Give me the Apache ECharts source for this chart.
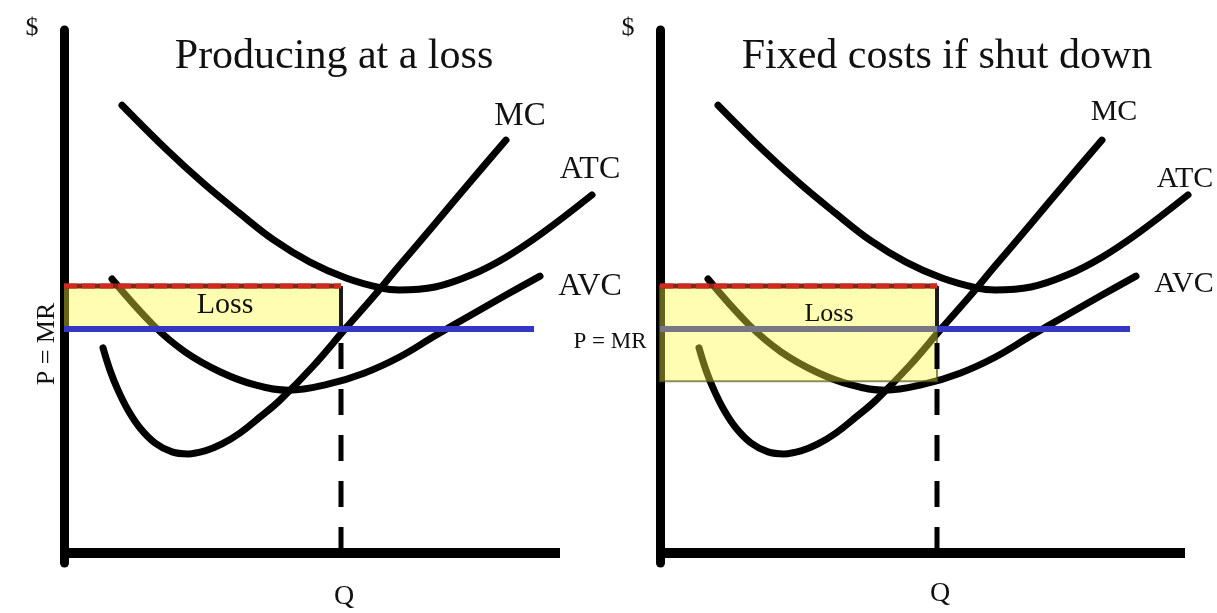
<!DOCTYPE html>
<html>
<head>
<meta charset="utf-8">
<script src="https://cdn.jsdelivr.net/npm/echarts@6/dist/echarts.min.js"></script>
<style>html,body{margin:0;padding:0;background:#fff}#c{width:1217px;height:613px}</style>
</head>
<body>
<div id="c"></div>
<script>
// ---- data (quantity, $) ----
const mcCurve  = [[7.8,41.2],[9.2,36.7],[10.8,32.7],[12.8,28.7],[15.2,25.1],[18.2,22.1],[21.6,20.3],[24.8,19.9],[28.2,20.5],[31.6,21.9],[35.2,24.1],[39.2,27.3],[43.2,30.7],[49.8,37.5],[56.4,45.2],[62.0,51.6],[67.0,57.6],[74.2,66.1],[81.4,74.7],[88.4,82.9]];
const atcCurve = [[11.6,89.9],[20.6,80.9],[27.8,74.3],[35.0,68.3],[42.0,62.8],[49.2,58.4],[56.4,55.2],[63.4,53.2],[67.0,52.8],[74.2,53.4],[81.4,55.8],[88.4,59.4],[95.6,64.2],[105.6,71.9]];
const avcCurve = [[9.6,55.0],[17.8,45.8],[24.2,40.4],[31.4,36.3],[38.4,33.7],[45.0,32.7],[52.8,33.9],[60.0,36.1],[67.0,39.3],[74.2,43.6],[81.4,47.8],[88.4,51.8],[95.2,55.6]];
const price = 45.0;       // P = MR
const qStar = 55.4;       // Q
const atcAtQ = 53.6;      // ATC at Q
const avcAtQ = 34.5;      // AVC at Q
const priceLineEnd = 94;  // end of the P = MR line
const titles = ['Producing at a loss', 'Fixed costs if shut down'];
const curveNames = ['MC', 'ATC', 'AVC'];

const chart = echarts.init(document.getElementById('c'));
const serif = 'Liberation Serif, Times New Roman, serif';

// axes 0/1 draw the visible axis lines; axes 2/3 (same scale, wider) carry the marks
function curve(name, data, idx) {
  return {type:'line', name, data, xAxisIndex:idx, yAxisIndex:idx, smooth:0.4, showSymbol:false, clip:false, z:2,
    lineStyle:{color:'#000', width:7, cap:'round', join:'round'}, silent:true};
}
function hline(data, idx, color, width, type, z) {
  return {type:'line', data, xAxisIndex:idx, yAxisIndex:idx, showSymbol:false, clip:false, z:z||4,
    lineStyle:{color, width, type:type||'solid', cap:'butt'}, silent:true};
}
function box(idx, yBottom, yTop, stroke) {
  return {type:'custom', xAxisIndex:idx, yAxisIndex:idx, z:3, silent:true, clip:false,
    data:[[0, yBottom, qStar, yTop]], encode:{x:[0,2], y:[1,3]},
    renderItem:function(params, api){
      const p0 = api.coord([api.value(0), api.value(3)]);
      const p1 = api.coord([api.value(2), api.value(1)]);
      return {type:'rect', shape:{x:p0[0], y:p0[1], width:p1[0]-p0[0], height:p1[1]-p0[1]},
        style:{fill:'rgba(255,250,60,0.4)', stroke:stroke, lineWidth:2}};
    }};
}

const series = [];
[0,1].forEach(function(p){
  const i = p + 2;
  series.push(curve('MC', mcCurve, i), curve('ATC', atcCurve, i), curve('AVC', avcCurve, i));
  series.push(box(i, p===0 ? price : avcAtQ, atcAtQ, p===0 ? 'rgba(0,0,0,0)' : 'rgba(90,90,30,0.7)'));
  // red dashed ATC level
  series.push(hline([[0,atcAtQ],[qStar,atcAtQ]], i, '#7a2c14', 5, 'solid', 4));
  series.push({type:'line', data:[[0,atcAtQ],[qStar,atcAtQ]], xAxisIndex:i, yAxisIndex:i, showSymbol:false, clip:false, z:5, silent:true,
    lineStyle:{color:'#cf2a1f', width:5, type:[13,5]}});
  // P = MR line
  if (p === 0) {
    series.push(hline([[0,price],[priceLineEnd,price]], i, '#3636c4', 6, 'solid', 5));
  } else {
    series.push(hline([[0,price],[qStar,price]], i, '#787884', 6, 'solid', 5));
    series.push(hline([[qStar,price],[priceLineEnd,price]], i, '#3636c4', 6, 'solid', 5));
  }
  // vertical at Q
  series.push(hline([[qStar,atcAtQ],[qStar,price]], i, '#1a1a1a', 4, 'solid', 4));
  series.push({type:'line', data:[[qStar,0],[qStar,price]], xAxisIndex:i, yAxisIndex:i, showSymbol:false, clip:false, z:4, silent:true,
    lineStyle:{color:'#000', width:5, type:[26,20]}});
});

const hidden = {axisLine:{show:false}, axisTick:{show:false}, axisLabel:{show:false}, splitLine:{show:false}};
function xAx(idx, max, visible){
  return Object.assign({type:'value', gridIndex:idx, min:0, max}, hidden,
    visible ? {axisLine:{show:true, onZero:true, lineStyle:{color:'#000', width:10, cap:'butt'}}} : {});
}
function yAx(idx, visible){
  return Object.assign({type:'value', gridIndex:idx, min:-2, max:105}, hidden,
    visible ? {axisLine:{show:true, lineStyle:{color:'#000', width:9}}} : {});
}

function txt(x, y, text, size, extra) {
  return Object.assign({type:'text', x, y, silent:true, z:100,
    style:{text, fill:'#111', font: size + 'px ' + serif, align:'center', verticalAlign:'middle'}}, extra||{});
}

chart.setOption({
  animation:false,
  backgroundColor:'#fff',
  grid:[
    {left:64, top:30, width:496, height:533},
    {left:660, top:30, width:525, height:533},
    {left:64, top:30, width:540, height:533},
    {left:660, top:30, width:540, height:533}
  ],
  xAxis:[xAx(0, 99.2, true), xAx(1, 105, true), xAx(2, 108, false), xAx(3, 108, false)],
  yAxis:[yAx(0, true), yAx(1, true), yAx(2, false), yAx(3, false)],
  series,
  graphic:[
    txt(334, 57, titles[0], 42),
    txt(947, 57, titles[1], 42),
    txt(32, 28, '$', 26),
    txt(628, 28, '$', 26),
    txt(520, 116, curveNames[0], 33),
    txt(590, 170, curveNames[1], 32),
    txt(590, 287, curveNames[2], 32),
    txt(1114, 112, curveNames[0], 30),
    txt(1185, 179, curveNames[1], 30),
    txt(1184, 284, curveNames[2], 30),
    txt(225, 305, 'Loss', 30),
    txt(829, 314, 'Loss', 26),
    txt(610, 342, 'P = MR', 23),
    txt(47, 344, 'P = MR', 26, {rotation: Math.PI/2}),
    txt(344, 597, 'Q', 28),
    txt(940, 594, 'Q', 28)
  ]
});
</script>
</body>
</html>
